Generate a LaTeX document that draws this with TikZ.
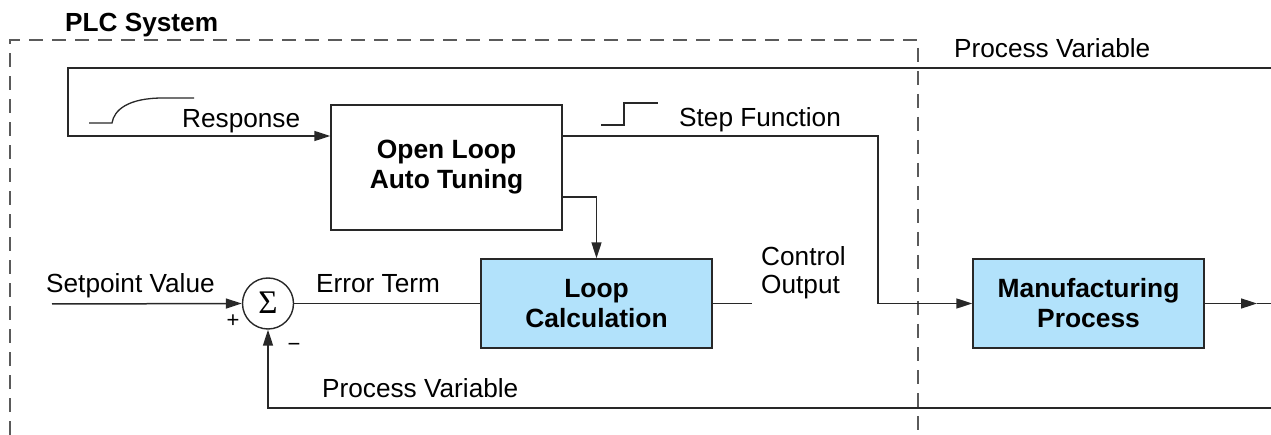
\documentclass[tikz,border=0pt]{standalone}
\usepackage{fontspec}
\setmainfont{Liberation Sans}
\newfontfamily\sigmafont{Liberation Serif}
\usetikzlibrary{arrows.meta}
\definecolor{boxblue}{RGB}{178,226,251}
\definecolor{linegray}{RGB}{40,40,40}
\definecolor{dashgray}{RGB}{90,90,90}
\tikzset{
  blk/.style={draw=linegray, line width=1.4pt, inner sep=0pt, align=center,
    font=\fontsize{26.4}{30}\selectfont\bfseries},
  bluebox/.style={blk, fill=boxblue},
  wire/.style={draw=linegray, line width=1.5pt},
  arr/.style={wire, -{Triangle[length=16pt,width=10pt]}},
  lbl/.style={inner sep=0pt, anchor=base west, font=\fontsize{26.2}{30}\selectfont},
  frame/.style={draw=dashgray, line width=1.4pt, dash pattern=on 14pt off 9pt},
}
\begin{document}
\begin{tikzpicture}[x=1pt,y=-1pt]
\useasboundingbox (0,0) rectangle (1271,435);
% PLC system frame
\draw[frame] (10,435) -- (10,40) -- (918,40) -- (918,435);
\node[lbl, font=\fontsize{26.2}{30}\selectfont\bfseries] (plc) at (65,32) {PLC System};

% blocks
\node[blk, minimum width=231pt, minimum height=125pt] (olat) at (446.5,167.5) {Open Loop\\Auto Tuning};
\node[bluebox, minimum width=231pt, minimum height=89pt] (loop) at (596.5,303.5) {Loop\\Calculation};
\node[bluebox, minimum width=231pt, minimum height=89pt] (mfg) at (1088.5,303.5) {Manufacturing\\Process};
\node[draw=linegray, line width=1.4pt, circle, minimum size=51pt, inner sep=0pt] (sum) at (268,303.5) {};
\node[inner sep=0pt, font=\sigmafont\fontsize{33}{33}\selectfont] (sig) at (268,303) {Σ};

% coordinates
\coordinate (sp) at (52,304);
\coordinate (co) at (752,303.5);
\coordinate (stepc) at (878,136);
\coordinate (outtip) at (1257,303.5);
\coordinate (outend) at (1271,303.5);
\coordinate (pvb) at (1271,408);
\coordinate (pvt) at (1271,68);
\coordinate (tl) at (68,68);

% connectors
\draw[arr] (sp) -- (sum.west);
\draw[wire] (sum.east) -- (loop.west |- sum.east);
\draw[arr] ([yshift=31.5pt]olat.east) -- (stepc) |- (mfg.west);
\draw[arr] ([yshift=-29.5pt]olat.east) -| (loop.north);
\draw[wire] (loop.east) -- (co);
\draw[arr] (mfg.east) -- (outtip);
\draw[wire] (outtip) -- (outend);
\draw[arr] (pvb) -| (sum.south);
\draw[arr] (pvt) -- (tl) |- ([yshift=31.5pt]olat.west);

% signal sketches
\draw[wire, line width=1.3pt] (89,123) -- (112,123) .. controls (114,110) and (128,98) .. (163,98) -- (194,98);
\draw[wire, line width=1.3pt] (601,125) -- (624,125) -- (624,103) -- (658,103);

% labels
\node[lbl] (resp) at (182,128) {Response};
\node[lbl] (stepf) at (679,127) {Step Function};
\node[lbl] (pvtop) at (954,58) {Process Variable};
\node[lbl] (setp) at (46,293) {Setpoint Value};
\node[lbl] (err) at (316,293) {Error Term};
\node[lbl] (ctl) at (761,266) {Control};
\node[lbl] (outp) at (761,294) {Output};
\node[lbl] (pvbot) at (322,397) {Process Variable};
\node[inner sep=0pt, font=\fontsize{22}{22}\selectfont] (plus) at (233,321) {+};
\node[inner sep=0pt, font=\fontsize{22}{22}\selectfont] (minus) at (294,347) {\char"2212};
\end{tikzpicture}
\end{document}
